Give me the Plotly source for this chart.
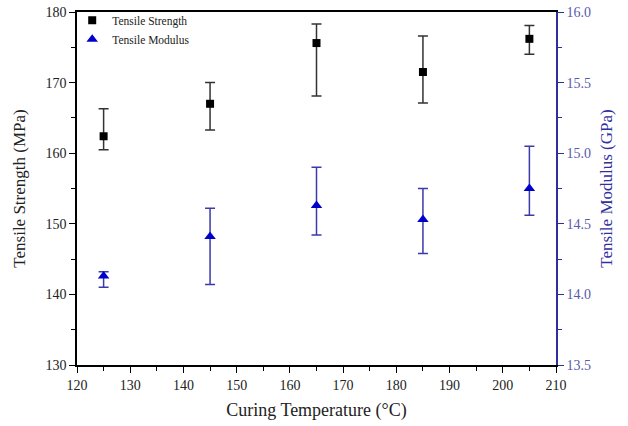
import plotly.graph_objects as go

temps = [125, 145, 165, 185, 205]
strength = [162.4, 167.0, 175.6, 171.5, 176.2]
strength_hi = [166.3, 170.0, 178.3, 176.6, 178.1]
strength_lo = [160.5, 163.3, 168.1, 167.1, 174.0]
modulus = [14.13, 14.41, 14.63, 14.53, 14.75]
modulus_hi = [14.16, 14.61, 14.90, 14.75, 15.05]
modulus_lo = [14.05, 14.07, 14.42, 14.29, 14.56]

font = "Liberation Serif, serif"
blue_axis = "#2e2e9e"

fig = go.Figure()
fig.add_trace(go.Scatter(
    x=temps, y=strength, mode="markers", name="Tensile Strength",
    marker=dict(symbol="square", size=8, color="black"),
    error_y=dict(type="data", symmetric=False,
                 array=[h - v for h, v in zip(strength_hi, strength)],
                 arrayminus=[v - l for v, l in zip(strength, strength_lo)],
                 color="#333333", thickness=1.5, width=5),
))
fig.add_trace(go.Scatter(
    x=temps, y=modulus, mode="markers", name="Tensile Modulus", yaxis="y2",
    marker=dict(symbol="triangle-up", size=10, color="#0000cc"),
    error_y=dict(type="data", symmetric=False,
                 array=[h - v for h, v in zip(modulus_hi, modulus)],
                 arrayminus=[v - l for v, l in zip(modulus, modulus_lo)],
                 color="#3a3aaa", thickness=1.5, width=5),
))

fig.update_layout(
    width=628, height=426,
    margin=dict(l=77, r=72, t=12, b=61, autoexpand=False),
    paper_bgcolor="white", plot_bgcolor="white",
    font=dict(family=font, size=13, color="#222222"),
    showlegend=True,
    legend=dict(x=-0.01, y=1.018, xanchor="left", yanchor="top",
                bgcolor="rgba(0,0,0,0)", font=dict(family=font, size=11.5, color="#222222"),
                tracegroupgap=0),
    xaxis=dict(
        range=[120, 210], dtick=10, tick0=120, automargin=False,
        showgrid=False, zeroline=False,
        showline=True, linecolor="black", linewidth=1.5, mirror=True,
        ticks="outside", ticklen=6, tickcolor="black", tickwidth=1.2,
        minor=dict(dtick=5, ticks="outside", ticklen=4, tickcolor="black", showgrid=False),
        title=dict(text="Curing Temperature (°C)", font=dict(family=font, size=18, color="#222222"), standoff=12),
        tickfont=dict(family=font, size=14, color="#222222"),
    ),
    yaxis=dict(
        range=[130, 180], dtick=10, tick0=130, automargin=False,
        showgrid=False, zeroline=False,
        showline=True, linecolor="black", linewidth=1.5,
        ticks="outside", ticklen=6, tickcolor="black", tickwidth=1.2,
        minor=dict(dtick=5, ticks="outside", ticklen=4, tickcolor="black", showgrid=False),
        title=dict(text="Tensile Strength (MPa)", font=dict(family=font, size=17, color="#222222"), standoff=16),
        tickfont=dict(family=font, size=14, color="#222222"),
    ),
    yaxis2=dict(
        overlaying="y", side="right", automargin=False,
        range=[13.5, 16.0], dtick=0.5, tick0=13.5, tickformat=".1f",
        showgrid=False, zeroline=False,
        showline=True, linecolor=blue_axis, linewidth=1.5,
        ticks="outside", ticklen=6, tickcolor=blue_axis, tickwidth=1.2,
        minor=dict(dtick=0.25, ticks="outside", ticklen=4, tickcolor=blue_axis, showgrid=False),
        title=dict(text="Tensile Modulus (GPa)", font=dict(family=font, size=17, color="#2f2fa0"), standoff=10),
        tickfont=dict(family=font, size=14, color="#5a5aaa"),
    ),
)

fig.write_html("out.html")
